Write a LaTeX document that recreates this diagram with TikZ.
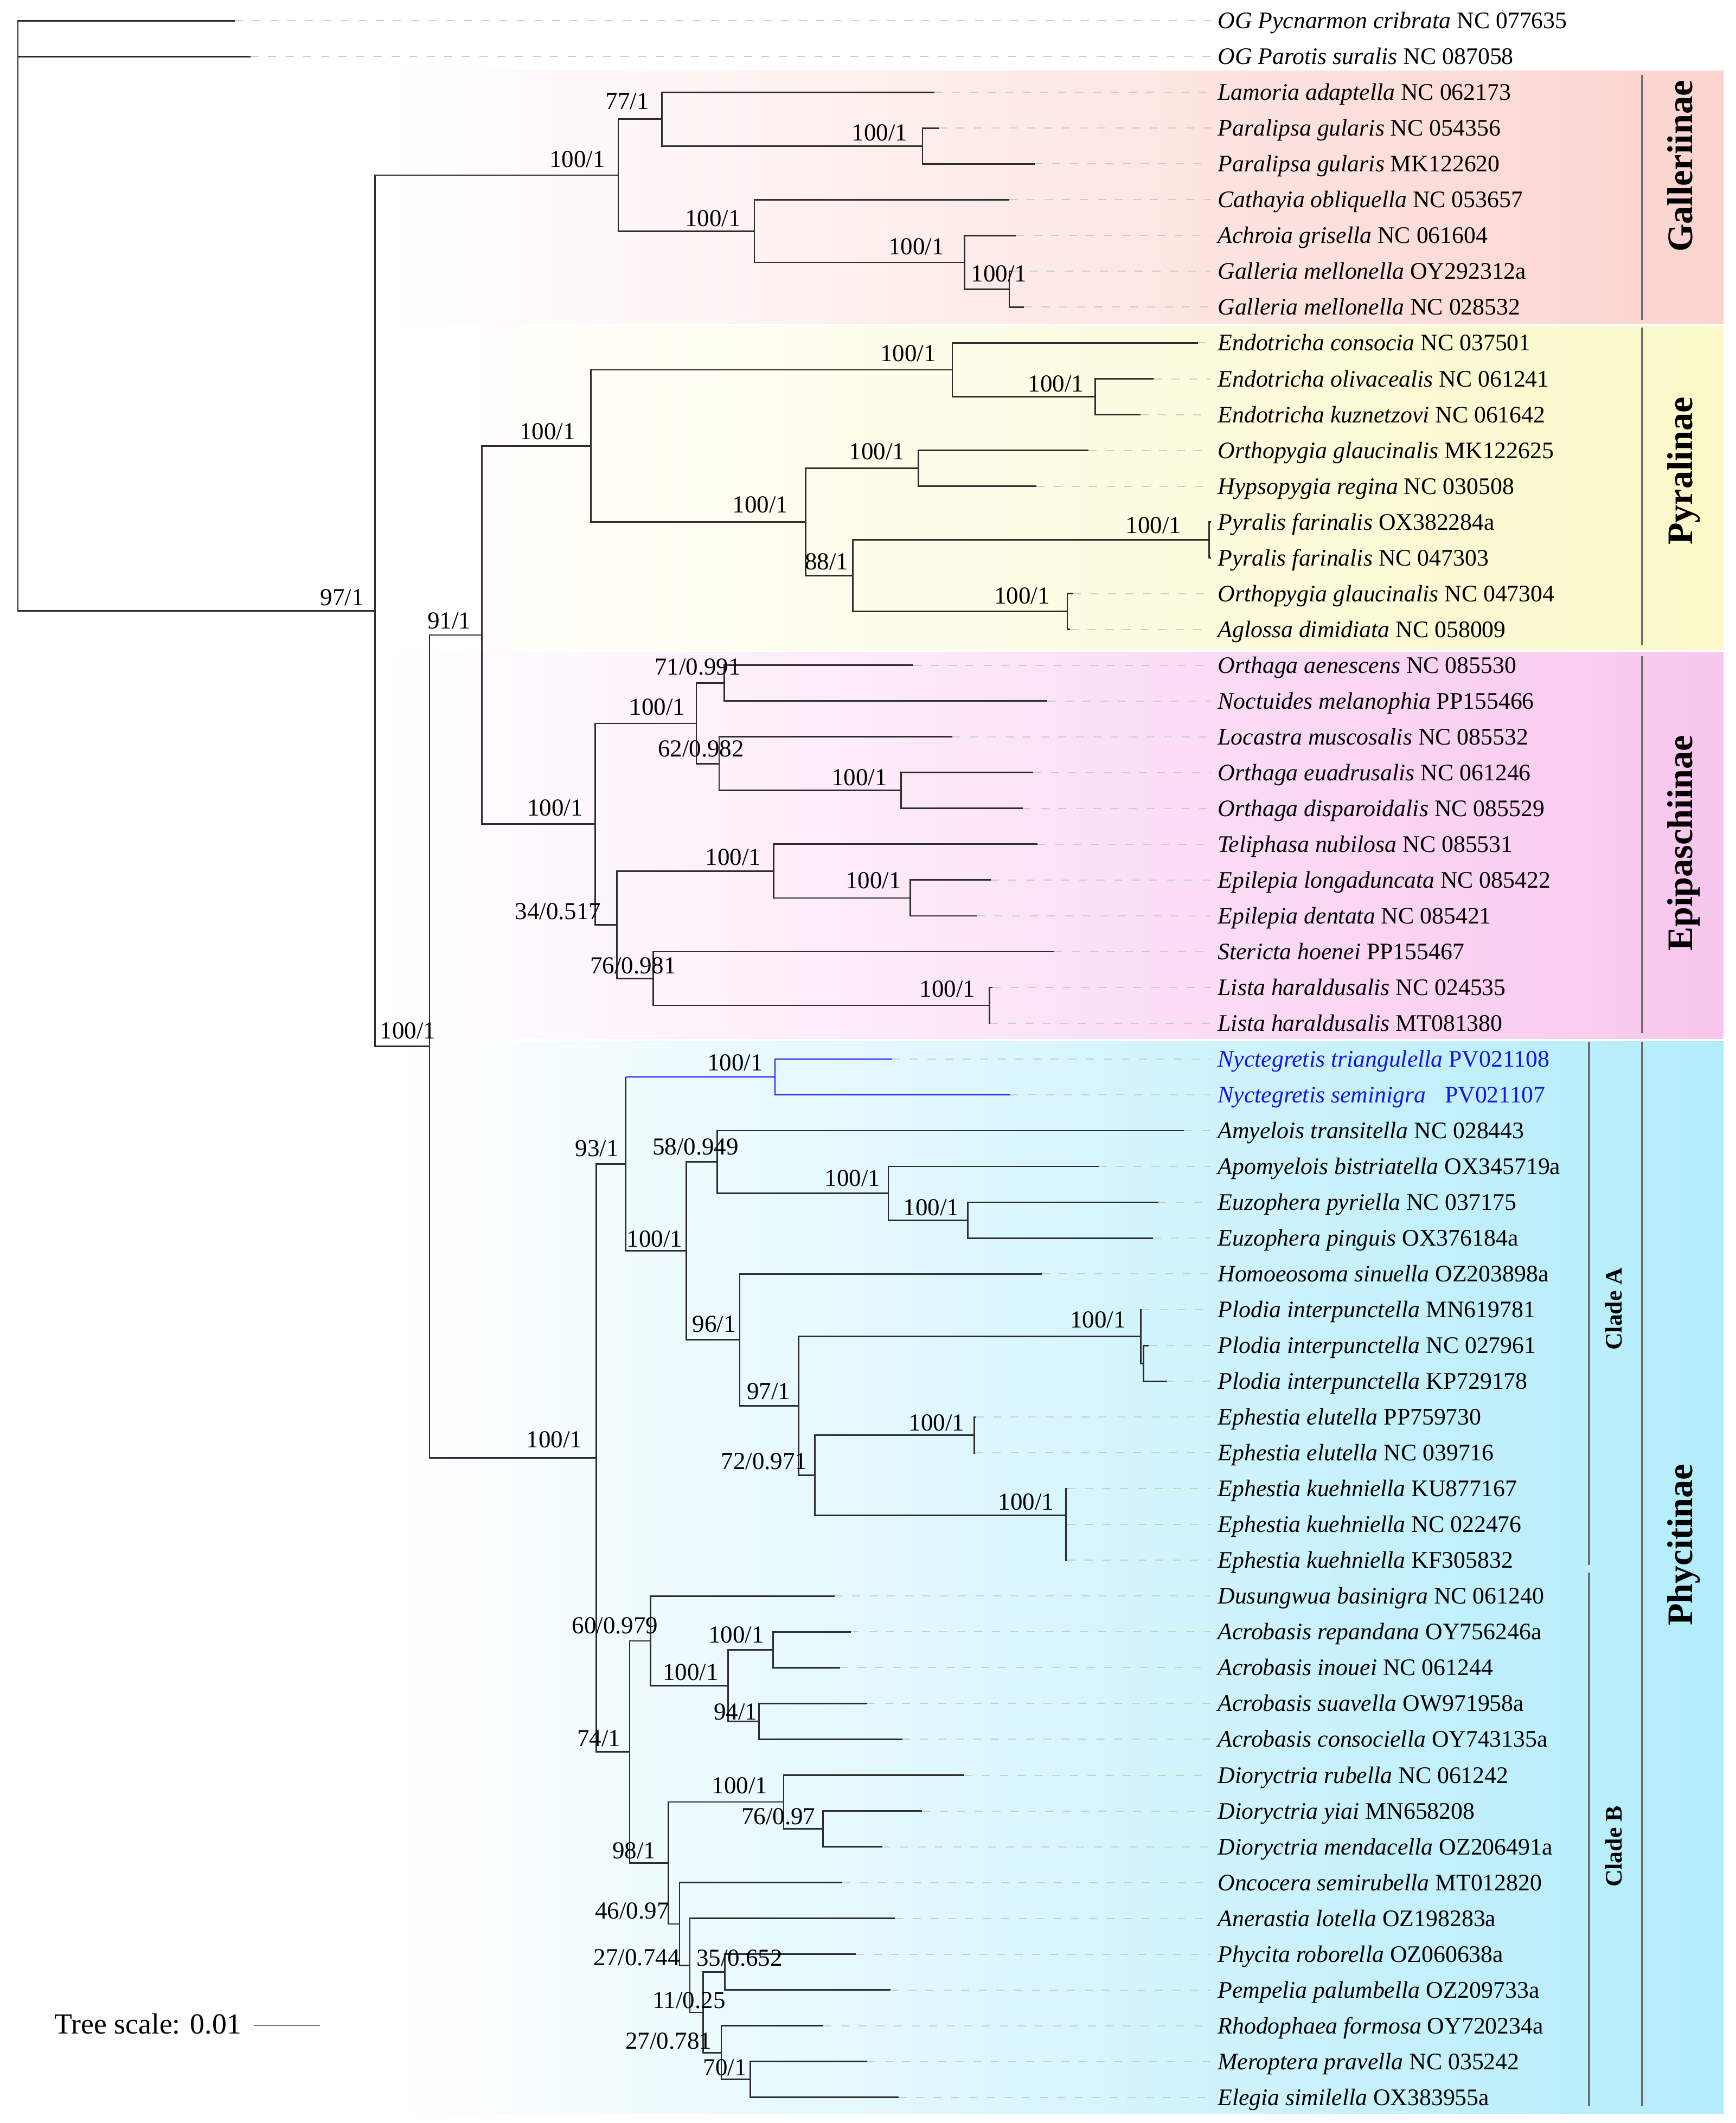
\documentclass[tikz,border=0pt]{standalone}
\usepackage{fontspec}
\setmainfont{Liberation Serif}
\usetikzlibrary{calc}
\definecolor{brc}{RGB}{45,45,45}
\definecolor{nyct}{RGB}{20,20,235}
\definecolor{gal}{RGB}{251,211,206}
\definecolor{pyr}{RGB}{250,248,200}
\definecolor{epi}{RGB}{248,198,238}
\definecolor{phy}{RGB}{178,236,250}
\definecolor{barc}{RGB}{110,110,110}
\tikzset{
 br/.style={draw=brc, line width=1.1pt},
 bb/.style={draw=nyct, line width=1.1pt},
 lead/.style={draw=black!20, line width=0.8pt, dash pattern=on 6pt off 7pt},
 leaf/.style={anchor=base west, inner sep=0pt, font=\fontsize{17.5}{20}\selectfont},
 sup/.style={anchor=base west, inner sep=0pt, font=\fontsize{18}{20}\selectfont},
 grp/.style={anchor=base, rotate=90, inner sep=0pt, font=\fontsize{26.5}{30}\selectfont\bfseries},
 cld/.style={anchor=base, rotate=90, inner sep=0pt, font=\fontsize{17.5}{20}\selectfont\bfseries},
 cbar/.style={draw=barc, line width=1.6pt},
}
\begin{document}
\begin{tikzpicture}[x=1pt,y=-1pt]
\useasboundingbox (0,0) rectangle (1280,1566);
% background bands
\fill[left color=white, right color=gal] (285,52) rectangle (1271,238.5);
\fill[left color=white, right color=pyr] (285,240.5) rectangle (1271,479);
\fill[left color=white, right color=epi] (285,481) rectangle (1271,766);
\fill[left color=white, right color=phy] (285,768) rectangle (1271,1559);
% leaves
\foreach \ix/\ex/\gn/\ac in {
0/173/OG Pycnarmon cribrata/NC 077635,
1/184.6/OG Parotis suralis/NC 087058,
2/689.3/Lamoria adaptella/NC 062173,
3/692.3/Paralipsa gularis/NC 054356,
4/763/Paralipsa gularis/MK122620,
5/744.4/Cathayia obliquella/NC 053657,
6/749.3/Achroia grisella/NC 061604,
7/746/Galleria mellonella/OY292312a,
8/755/Galleria mellonella/NC 028532,
9/883.5/Endotricha consocia/NC 037501,
10/850.9/Endotricha olivacealis/NC 061241,
11/841.1/Endotricha kuznetzovi/NC 061642,
12/802.8/Orthopygia glaucinalis/MK122625,
13/764.3/Hypsopygia regina/NC 030508,
14/893/Pyralis farinalis/OX382284a,
15/893/Pyralis farinalis/NC 047303,
16/791/Orthopygia glaucinalis/NC 047304,
17/789/Aglossa dimidiata/NC 058009,
18/673.4/Orthaga aenescens/NC 085530,
19/772.5/Noctuides melanophia/PP155466,
20/702.4/Locastra muscosalis/NC 085532,
21/762.1/Orthaga euadrusalis/NC 061246,
22/754.5/Orthaga disparoidalis/NC 085529,
23/765.2/Teliphasa nubilosa/NC 085531,
24/730.6/Epilepia longaduncata/NC 085422,
25/720.5/Epilepia dentata/NC 085421,
26/777.4/Stericta hoenei/PP155467,
27/732/Lista haraldusalis/NC 024535,
28/730/Lista haraldusalis/MT081380,
31/873.3/Amyelois transitella/NC 028443,
32/810.3/Apomyelois bistriatella/OX345719a,
33/854.2/Euzophera pyriella/NC 037175,
34/850.4/Euzophera pinguis/OX376184a,
35/768.2/Homoeosoma sinuella/OZ203898a,
36/842/Plodia interpunctella/MN619781,
37/847.3/Plodia interpunctella/NC 027961,
38/860.6/Plodia interpunctella/KP729178,
39/719.5/Ephestia elutella/PP759730,
40/719/Ephestia elutella/NC 039716,
41/787/Ephestia kuehniella/KU877167,
42/787/Ephestia kuehniella/NC 022476,
43/787/Ephestia kuehniella/KF305832,
44/615.5/Dusungwua basinigra/NC 061240,
45/627.7/Acrobasis repandana/OY756246a,
46/619.5/Acrobasis inouei/NC 061244,
47/639.7/Acrobasis suavella/OW971958a,
48/665.7/Acrobasis consociella/OY743135a,
49/711/Dioryctria rubella/NC 061242,
50/680/Dioryctria yiai/MN658208,
51/650.7/Dioryctria mendacella/OZ206491a,
52/621.3/Oncocera semirubella/MT012820,
53/660.1/Anerastia lotella/OZ198283a,
54/631.3/Phycita roborella/OZ060638a,
55/656.8/Pempelia palumbella/OZ209733a,
56/607.3/Rhodophaea formosa/OY720234a,
57/639.7/Meroptera pravella/NC 035242,
58/662.7/Elegia similella/OX383955a}{
 \coordinate (L\ix) at (\ex,{15.3+26.41*\ix});
 \coordinate (D\ix) at (893,{15.3+26.41*\ix});
 \node[leaf] (T\ix) at (898,{21.1+26.41*\ix}) {\textit{\gn} \ac};
 \draw[lead] (L\ix) -- (D\ix);
}
% blue leaves
\coordinate (L29) at (657.8,{15.3+26.41*29});
\coordinate (D29) at (893,{15.3+26.41*29});
\node[leaf, text=nyct] (T29) at (898,{21.1+26.41*29}) {\textit{Nyctegretis triangulella} PV021108};
\draw[lead] (L29) -- (D29);
\coordinate (L30) at (745.3,{15.3+26.41*30});
\coordinate (D30) at (893,{15.3+26.41*30});
\node[leaf, text=nyct] (T30) at (898,{21.1+26.41*30}) {\textit{Nyctegretis seminigra}\hspace{0.55em} PV021107};
\draw[lead] (L30) -- (D30);
% internal nodes
\coordinate (root) at (13.2,232.9);
\coordinate (ing) at (276.6,450.55);
\coordinate (gall) at (456.0,129.2);
\coordinate (n77) at (488.2,87.93);
\coordinate (par) at (680.4,107.74);
\coordinate (cathg) at (556.4,170.46);
\coordinate (achg) at (711.3,193.57);
\coordinate (galm) at (744.4,213.38);
\coordinate (pep) at (316.8,771.9);
\coordinate (n91) at (355.4,468.4);
\coordinate (pyr) at (435.7,328.93);
\coordinate (endo) at (702.4,272.8);
\coordinate (endp) at (807.7,292.6);
\coordinate (lowp) at (594.1,385.05);
\coordinate (oh) at (677.3,345.43);
\coordinate (n88) at (629.0,424.66);
\coordinate (pyrl) at (891.9,398.25);
\coordinate (oa) at (787.2,451.07);
\coordinate (epir) at (438.9,607.88);
\coordinate (epiu) at (513.6,533.6);
\coordinate (n71) at (534.1,503.89);
\coordinate (n62) at (530.4,563.31);
\coordinate (orp) at (664.5,583.12);
\coordinate (n34) at (455.1,682.16);
\coordinate (tele) at (570.5,642.54);
\coordinate (epil) at (671.5,662.35);
\coordinate (n76) at (481.7,721.77);
\coordinate (lista) at (729.7,741.58);
\coordinate (phyc) at (439.7,1075.41);
\coordinate (n93) at (461.4,858.55);
\coordinate (nyct) at (571.6,794.4);
\coordinate (n100b) at (506.1,922.7);
\coordinate (n58) at (529.0,857.12);
\coordinate (apoe) at (655.2,880.23);
\coordinate (euz) at (713.9,900.04);
\coordinate (n96) at (545.6,988.3);
\coordinate (n97) at (589.0,1037.0);
\coordinate (plod) at (841.4,985.87);
\coordinate (plods) at (843.5,1005.68);
\coordinate (n72) at (601.0,1088.2);
\coordinate (ephe) at (718.7,1058.5);
\coordinate (ephk) at (786.1,1117.9);
\coordinate (ephkk) at (786.1,1137.7);
\coordinate (n74) at (464.4,1292.27);
\coordinate (n60) at (479.7,1210.36);
\coordinate (acr) at (537.1,1243.37);
\coordinate (acra) at (570.3,1216.96);
\coordinate (n94) at (559.8,1269.78);
\coordinate (n98) at (493.0,1374.18);
\coordinate (dio) at (578.0,1329.2);
\coordinate (n76b) at (607.0,1349.0);
\coordinate (n46) at (501.2,1419.16);
\coordinate (n27a) at (508.8,1449.7);
\coordinate (n11) at (518.5,1484.36);
\coordinate (n35) at (534.6,1454.65);
\coordinate (n27b) at (532.0,1514.07);
\coordinate (n70) at (553.5,1533.88);
% branches
\foreach \pa/\ch in {root/L0,root/L1,root/ing,ing/gall,ing/pep,gall/n77,gall/cathg,n77/L2,n77/par,par/L3,par/L4,
 cathg/L5,cathg/achg,achg/L6,achg/galm,galm/L7,galm/L8,pep/n91,pep/phyc,n91/pyr,n91/epir,pyr/endo,pyr/lowp,
 endo/L9,endo/endp,endp/L10,endp/L11,lowp/oh,lowp/n88,oh/L12,oh/L13,n88/pyrl,n88/oa,pyrl/L14,pyrl/L15,oa/L16,oa/L17,
 epir/epiu,epir/n34,epiu/n71,epiu/n62,n71/L18,n71/L19,n62/L20,n62/orp,orp/L21,orp/L22,n34/tele,n34/n76,tele/L23,tele/epil,
 epil/L24,epil/L25,n76/L26,n76/lista,lista/L27,lista/L28,phyc/n93,phyc/n74,n93/n100b,n100b/n58,n100b/n96,
 n58/L31,n58/apoe,apoe/L32,apoe/euz,euz/L33,euz/L34,n96/L35,n96/n97,n97/plod,n97/n72,plod/L36,plod/plods,plods/L37,plods/L38,
 n72/ephe,n72/ephk,ephe/L39,ephe/L40,ephk/L41,ephk/ephkk,ephkk/L42,ephkk/L43,n74/n60,n74/n98,n60/L44,n60/acr,acr/acra,acr/n94,
 acra/L45,acra/L46,n94/L47,n94/L48,n98/dio,n98/n46,dio/L49,dio/n76b,n76b/L50,n76b/L51,n46/L52,n46/n27a,n27a/L53,n27a/n11,
 n11/n35,n11/n27b,n35/L54,n35/L55,n27b/L56,n27b/n70,n70/L57,n70/L58}{
 \draw[br] (\pa) |- (\ch);
}
\draw[br] (n93) -- (n93 |- nyct);
\draw[bb] (n93 |- nyct) -- (nyct);
\draw[bb] (nyct) |- (L29);
\draw[bb] (nyct) |- (L30);
% support values
\foreach \k/\x/\y/\bs/\pp in {
1/236/446.5/97/1, 2/405/123.5/100/1, 3/446.5/80.6/77/1, 4/628/103.7/100/1, 5/505/167/100/1,
6/655/187.8/100/1, 7/716/207.6/100/1, 8/383/324.1/100/1, 9/315/463.9/91/1, 10/649/266.5/100/1,
11/758/289/100/1, 12/626/339/100/1, 13/540/378.2/100/1, 14/830/393.5/100/1, 15/593.5/420/88/1,
16/733/445.5/100/1, 17/482.6/497.8/71/0.991, 18/464/527.4/100/1, 19/485/558/62/0.982, 20/613/579.4/100/1,
21/388.7/601.8/100/1, 22/379.6/678/34/0.517, 23/520/638/100/1, 24/623.5/655.5/100/1, 25/435/718.2/76/0.981,
26/678/735.5/100/1, 27/280/766/100/1, 28/388/1067.7/100/1, 29/424/853/93/1, 30/521.4/789.8/100/1,
31/462/919.6/100/1, 32/481/851.8/58/0.949, 33/608/874.8/100/1, 34/666/896.6/100/1, 35/510.4/982.7/96/1,
36/550.7/1032/97/1, 37/789/979.3/100/1, 38/531.6/1083.7/72/0.971, 39/670/1055.5/100/1, 40/736/1113.6/100/1,
41/425.4/1288/74/1, 42/421.6/1204.9/60/0.979, 43/488.7/1239.3/100/1, 44/522.3/1211.8/100/1, 45/526.2/1268.4/94/1,
46/524.9/1322.8/100/1, 47/451.4/1371/98/1, 48/546.6/1345.9/76/0.97, 49/438.7/1415.4/46/0.97, 50/437.7/1449.9/27/0.744,
51/481/1481.3/11/0.25, 52/513.4/1450.2/35/0.652, 53/461.1/1511.4/27/0.781, 54/518.5/1531/70/1}{
 \node[sup] (s\k) at (\x,\y) {\bs/\pp};
}
% clade bars and labels
\coordinate (gb1) at (1211,55); \coordinate (gb2) at (1211,236);
\coordinate (pb1) at (1211,241.5); \coordinate (pb2) at (1211,476);
\coordinate (eb1) at (1211,484); \coordinate (eb2) at (1211,762);
\coordinate (fb1) at (1211,768.6); \coordinate (fb2) at (1211,1553.7);
\coordinate (ab1) at (1172,768.6); \coordinate (ab2) at (1172,1154.4);
\coordinate (cb1) at (1172,1159.8); \coordinate (cb2) at (1172,1553.7);
\draw[cbar] (gb1) -- (gb2);
\draw[cbar] (pb1) -- (pb2);
\draw[cbar] (eb1) -- (eb2);
\draw[cbar] (fb1) -- (fb2);
\draw[cbar] (ab1) -- (ab2);
\draw[cbar] (cb1) -- (cb2);
\node[grp] (gGal) at (1248,122.7) {Galleriinae};
\node[grp] (gPyr) at (1248,347.4) {Pyralinae};
\node[grp] (gEpi) at (1248,622) {Epipaschiinae};
\node[grp] (gPhy) at (1248,1139.5) {Phycitinae};
\node[cld] (cA) at (1196,965.5) {Clade A};
\node[cld] (cB) at (1196,1362) {Clade B};
% tree scale
\node[anchor=base west, inner sep=0pt, font=\fontsize{21.5}{24}\selectfont] (ts) at (40,1500) {Tree scale: 0.01};
\coordinate (sc1) at (187,1494); \coordinate (sc2) at (236,1494);
\draw[draw=black!55, line width=1pt] (sc1) -- (sc2);
\end{tikzpicture}
\end{document}
